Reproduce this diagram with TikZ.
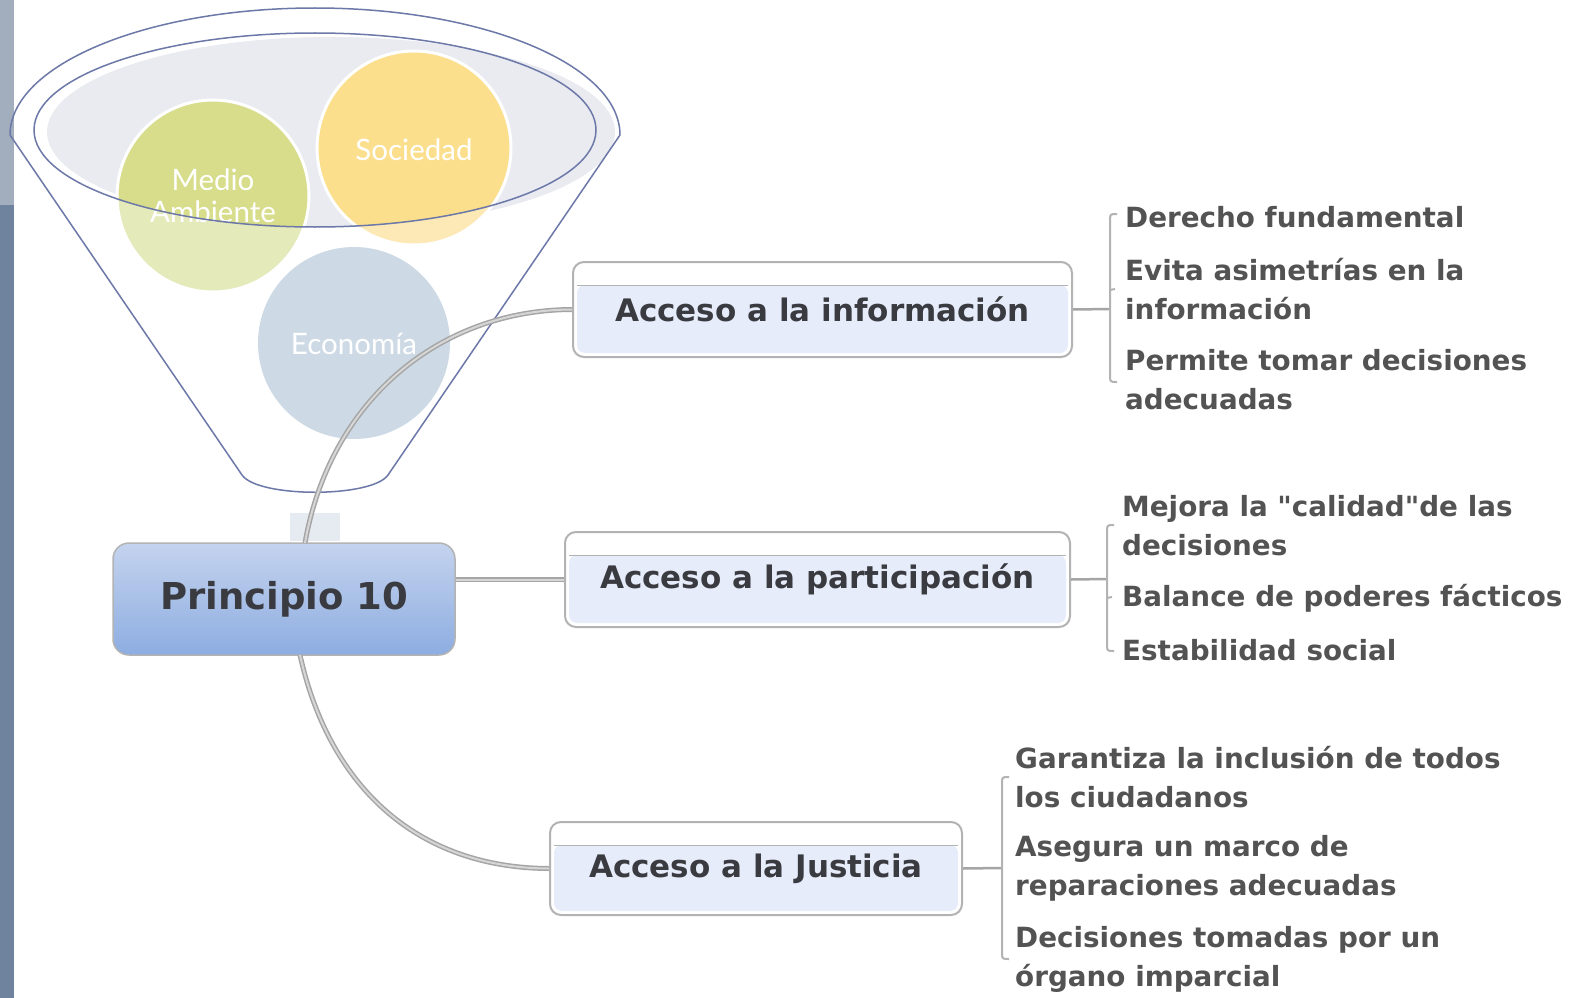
\documentclass[tikz,border=0pt]{standalone}
\usepackage{fontspec}
\setmainfont{DejaVu Sans}[Ligatures=TeXOff]
\newfontfamily\circfont{Lato}
\usetikzlibrary{calc}
\definecolor{stripA}{HTML}{A2AEBD}
\definecolor{stripB}{HTML}{6F839F}
\definecolor{funnelline}{HTML}{6C78A8}
\definecolor{funnelfill}{HTML}{E9EBF0}
\definecolor{greenA}{HTML}{D7DD8B}
\definecolor{greenB}{HTML}{E5EABA}
\definecolor{yellowA}{HTML}{FBDF8D}
\definecolor{yellowB}{HTML}{FCE9B6}
\definecolor{blueC}{HTML}{CDDAE5}
\definecolor{boxborder}{HTML}{B3B3B3}
\definecolor{accfill}{HTML}{E6ECFA}
\definecolor{ptop}{HTML}{C5D3EE}
\definecolor{pbot}{HTML}{8DADE1}
\definecolor{titlecol}{HTML}{3A3B40}
\definecolor{itemcol}{HTML}{535353}
\definecolor{conncol}{HTML}{A5A5A5}
\definecolor{conninner}{HTML}{D6D6D6}
\definecolor{sqcol}{HTML}{E6EAF1}
\begin{document}
\begin{tikzpicture}[x=1pt,y=-1pt,
  conn/.style={draw=conncol, line width=1.5pt, double=conninner, double distance=2pt},
  conntwo/.style={draw=conncol, line width=2.5pt},
  brk/.style={draw=boxborder, line width=2pt},
  circtext/.style={font=\circfont\fontsize{29.5}{32}\selectfont, text=white, align=center, inner sep=0pt},
  pbox/.style={rounded corners=16pt, minimum width=342, minimum height=112, top color=ptop, bottom color=pbot, draw=boxborder, line width=1.5pt, font=\bfseries\fontsize{37}{40}\selectfont, text=titlecol, inner sep=0pt},
  accbox/.style={rounded corners=11pt, draw=boxborder, line width=2pt, fill=white, inner sep=0pt,
     font=\bfseries\fontsize{31}{34}\selectfont, text=titlecol,
     path picture={
       \fill[accfill, rounded corners=8pt] ([xshift=4pt,yshift=4pt]path picture bounding box.south west) rectangle ([xshift=-4pt,yshift=-23pt]path picture bounding box.north east);
       \draw[boxborder, line width=1pt] ([xshift=4pt,yshift=-23pt]path picture bounding box.north west) -- ([xshift=-4pt,yshift=-23pt]path picture bounding box.north east);
     }},
  item/.style={anchor=west, align=left, inner sep=0pt, font=\bfseries\fontsize{27.8}{39}\selectfont, text=itemcol}
]
\useasboundingbox (0,0) rectangle (1572,998);
\fill[white] (0,0) rectangle (1572,998);
% left strip
\fill[stripA] (0,0) rectangle (14,205);
\fill[stripB] (0,205) rectangle (14,998);

% funnel background fill
\fill[funnelfill] (331,132) ellipse[x radius=284, y radius=95];

% circles
\fill[greenB] (213,196) circle[radius=96];
\fill[yellowB] (414,148) circle[radius=97];
\begin{scope}
  \clip (315,130) ellipse[x radius=281, y radius=97];
  \fill[greenA] (213,196) circle[radius=96];
  \fill[yellowA] (414,148) circle[radius=97];
\end{scope}
\fill[blueC] (354,343) circle[radius=96];
\draw[white, line width=3pt] (213,196) circle[radius=96];
\draw[white, line width=3pt] (414,148) circle[radius=97];

\node[circtext] (medio) at (213,196) {Medio\\Ambiente};
\node[circtext] (soc) at (414,150) {Sociedad};
\node[circtext] (eco) at (354,344) {Economía};

% inner ellipse line
\draw[funnelline, line width=1.5pt] (315,130) ellipse[x radius=281, y radius=97];
% outer funnel
\draw[funnelline, line width=1.5pt, line join=round]
  (10,135) arc[start angle=180, end angle=360, x radius=305, y radius=127]
  -- (388,475) .. controls (372,498) and (258,498) .. (242,475) -- cycle;

% small square
\fill[sqcol] (290,513) rectangle (340,541);

% main node
\node[pbox] (p10) at (284,599) {Principio 10};

% branch boxes
\node[accbox, minimum width=499, minimum height=95] (info) at (822.5,309.5) {Acceso a la información};
\node[accbox, minimum width=505, minimum height=95] (part) at (817.5,579.5) {Acceso a la participación};
\node[accbox, minimum width=412, minimum height=93] (just) at (756,868.5) {Acceso a la Justicia};

% connectors from main node
\coordinate (p10top) at (305,543);
\coordinate (p10bot) at (300,655);
\draw[conn] (p10top) .. controls (330,400) and (440,310) .. (info.west);
\draw[conn] (p10.east |- part.west) -- (part.west);
\draw[conn] (p10bot) .. controls (330,790) and (420,868) .. (just.west);

% brackets
\coordinate (b1) at (1110,309);
\coordinate (b2) at (1107,579);
\coordinate (b3) at (1002,868);
\draw[conntwo] (info.east) -- (b1);
\draw[conntwo] (part.east) -- (b2);
\draw[conntwo] (just.east) -- (b3);

\draw[brk] (1117,214) .. controls (1110,214) .. (1110,221) -- (1110,375) .. controls (1110,382) .. (1117,382);
\draw[brk] (1110,290) -- (1115,289);
\draw[brk] (1114,525) .. controls (1107,525) .. (1107,532) -- (1107,644) .. controls (1107,651) .. (1114,651);
\draw[brk] (1107,598) -- (1112,597);
\draw[brk] (1009,777) .. controls (1002,777) .. (1002,784) -- (1002,952) .. controls (1002,959) .. (1009,959);

% items
\node[item] (i11) at (1125,217) {Derecho fundamental};
\node[item] (i12) at (1125,289) {Evita asimetrías en la\\información};
\node[item] (i13) at (1125,380) {Permite tomar decisiones\\adecuadas};
\node[item] (i21) at (1122,526) {Mejora la "calidad"de las\\decisiones};
\node[item] (i22) at (1122,598) {Balance de poderes fácticos};
\node[item] (i23) at (1122,650) {Estabilidad social};
\node[item] (i31) at (1015,777) {Garantiza la inclusión de todos\\los ciudadanos};
\node[item] (i32) at (1015,868) {Asegura un marco de\\reparaciones adecuadas};
\node[item] (i33) at (1015,959) {Decisiones tomadas por un\\órgano imparcial};
\end{tikzpicture}
\end{document}
